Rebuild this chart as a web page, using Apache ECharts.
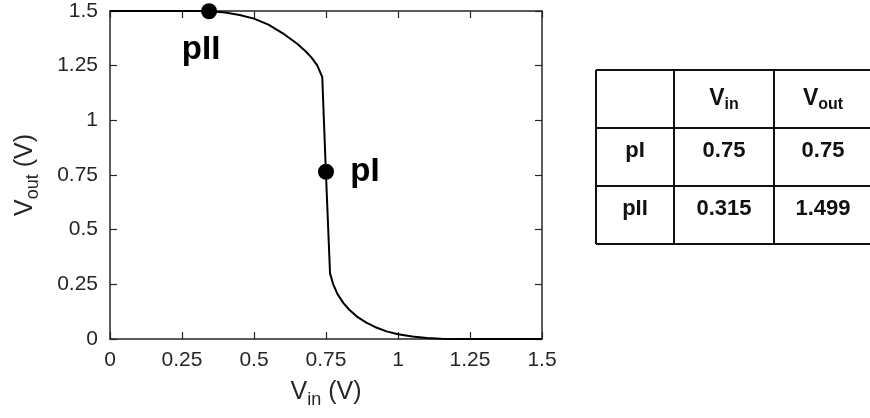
<!DOCTYPE html>
<html>
<head>
<meta charset="utf-8">
<script src="https://cdn.jsdelivr.net/npm/echarts@6/dist/echarts.min.js"></script>
<style>
  html, body { margin: 0; padding: 0; background: #fff; }
  #main { width: 870px; height: 418px; }
</style>
</head>
<body>
<div id="main"></div>
<script>
// transfer curve
var vin  = [0, 0.1, 0.2, 0.3, 0.35, 0.4, 0.45, 0.5, 0.55, 0.6, 0.65, 0.68, 0.7, 0.72, 0.737, 0.75, 0.764, 0.775, 0.79, 0.81, 0.83, 0.86, 0.89, 0.92, 0.96, 1.0, 1.05, 1.1, 1.15, 1.2, 1.3, 1.4, 1.5];
var vout = [1.5, 1.5, 1.5, 1.5, 1.499, 1.493, 1.482, 1.465, 1.438, 1.398, 1.35, 1.315, 1.287, 1.25, 1.198, 0.75, 0.3, 0.25, 0.205, 0.165, 0.135, 0.1, 0.075, 0.055, 0.035, 0.022, 0.011, 0.005, 0.001, 0, 0, 0, 0];
// marked points
var pointNames = ['pI', 'pII'];
var pointVin = [0.75, 0.344];
var pointVout = [0.765, 1.499];
// table
var tableRows = ['pI', 'pII'];
var tableVin = ['0.75', '0.315'];
var tableVout = ['0.75', '1.499'];

var font = 'Liberation Sans, Arial, sans-serif';
var ink = '#262626';
var chart = echarts.init(document.getElementById('main'));

var curve = vin.map(function (x, i) { return [x, vout[i]]; });
var pts = pointNames.map(function (n, i) { return { name: n, value: [pointVin[i], pointVout[i]] }; });

function fmt(v) { return String(v); }

function axisBase() {
  return {
    type: 'value', min: 0, max: 1.5, interval: 0.25,
    axisLine: { show: true, onZero: false, lineStyle: { color: ink, width: 1.5 } },
    axisTick: { show: true, inside: true, length: 7, lineStyle: { color: ink, width: 1.2 } },
    splitLine: { show: false }
  };
}
var nameRich = {
  v: { fontSize: 25, color: ink, fontFamily: font },
  s: { fontSize: 18, color: ink, fontFamily: font, padding: [15, 0, 0, 0] }
};

// table graphics
var colX = [596, 674, 774, 872];
var rowY = [70, 128, 186, 244];
var g = [];
var lineStyle = { stroke: '#111', lineWidth: 2 };
colX.forEach(function (x) {
  g.push({ type: 'line', shape: { x1: x, y1: rowY[0], x2: x, y2: rowY[3] }, style: lineStyle });
});
rowY.forEach(function (y) {
  g.push({ type: 'line', shape: { x1: colX[0], y1: y, x2: colX[3], y2: y }, style: lineStyle });
});
function cellText(col, row, text, rich, dy) {
  g.push({
    type: 'text',
    x: (colX[col] + colX[col + 1]) / 2,
    y: (rowY[row] + rowY[row + 1]) / 2 + dy,
    style: {
      text: text, rich: rich, fontSize: 22, fontWeight: 'bold', fontFamily: font, fill: '#111',
      align: 'center', verticalAlign: 'middle'
    }
  });
}
var headRich = {
  v: { fontSize: 23, fontWeight: 'bold', fontFamily: font, fill: '#111' },
  s: { fontSize: 16, fontWeight: 'bold', fontFamily: font, fill: '#111', padding: [12, 0, 0, 0] }
};
cellText(1, 0, '{v|V}{s|in}', headRich, 0);
cellText(2, 0, '{v|V}{s|out}', headRich, 0);
tableRows.forEach(function (r, i) {
  cellText(0, i + 1, r, null, -6);
  cellText(1, i + 1, tableVin[i], null, -6);
  cellText(2, i + 1, tableVout[i], null, -6);
});

chart.setOption({
  animation: false,
  backgroundColor: '#fff',
  grid: { left: 110, right: 328, top: 11, bottom: 79, outerBoundsMode: 'none', containLabel: false },
  xAxis: [
    Object.assign(axisBase(), {
      position: 'bottom',
      axisLabel: { color: ink, fontSize: 21, fontFamily: font, margin: 11, formatter: fmt },
      name: '{v|V}{s|in}{v| (V)}',
      nameLocation: 'middle', nameGap: 37,
      nameTextStyle: { rich: nameRich }
    }),
    Object.assign(axisBase(), { position: 'top', axisLabel: { show: false } })
  ],
  yAxis: [
    Object.assign(axisBase(), {
      position: 'left',
      axisLabel: { color: ink, fontSize: 21, fontFamily: font, margin: 12, formatter: fmt },
      name: '{v|V}{s|out}{v| (V)}',
      nameLocation: 'middle', nameGap: 68,
      nameTextStyle: { rich: nameRich }
    }),
    Object.assign(axisBase(), { position: 'right', axisLabel: { show: false } })
  ],
  series: [
    {
      type: 'line', data: curve, showSymbol: false, smooth: false,
      lineStyle: { color: '#000', width: 2 }, z: 3
    },
    {
      type: 'scatter', data: pts, symbolSize: 16,
      itemStyle: { color: '#000', opacity: 1 }, z: 4,
      label: {
        show: true, formatter: '{b}', color: '#000', fontSize: 33, fontWeight: 'bold', fontFamily: font,
        position: 'inside'
      },
      labelLayout: function (p) {
        return p.dataIndex === 0 ? { dx: 39, dy: 0 } : { dx: -8, dy: 39 };
      }
    }
  ],
  graphic: g
});
</script>
</body>
</html>
